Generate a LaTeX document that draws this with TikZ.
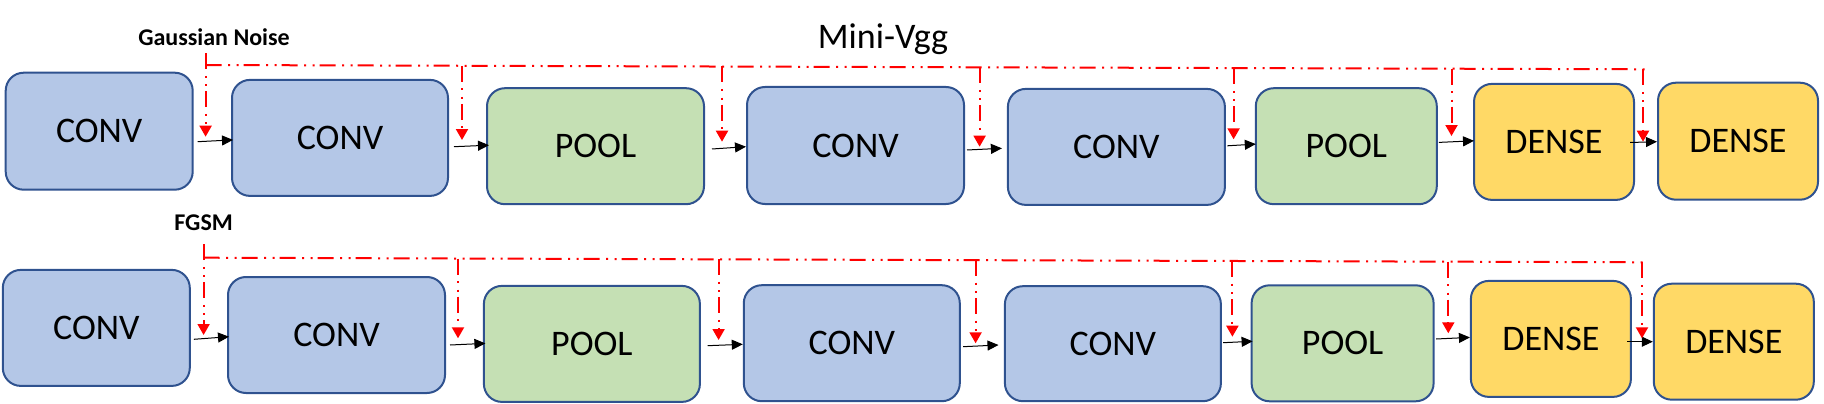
\documentclass[tikz,border=0pt]{standalone}
\usepackage{fontspec}
\setmainfont{Carlito}
\usetikzlibrary{arrows.meta}
\definecolor{convblue}{HTML}{B4C7E7}
\definecolor{poolgreen}{HTML}{C5E0B4}
\definecolor{denseyellow}{HTML}{FFD966}
\definecolor{boxborder}{HTML}{2F528F}
\tikzset{
  box/.style={draw=boxborder, line width=2pt, rounded corners=18pt, inner sep=0pt,
    font=\fontsize{36}{40}\selectfont},
  convbox/.style={box, fill=convblue},
  poolbox/.style={box, fill=poolgreen},
  densebox/.style={box, fill=denseyellow},
  flow/.style={black, line width=1pt, -{Triangle[length=11pt,width=10pt]}},
  noise/.style={red, line width=2pt, dash pattern=on 16pt off 6.5pt on 2pt off 6.5pt on 2pt off 5pt},
  noisearrow/.style={noise, -{Triangle[length=11pt,width=12pt]}},
  lbl/.style={font=\bfseries\fontsize{24}{28}\selectfont, anchor=base, inner sep=0pt},
}
\begin{document}
\begin{tikzpicture}[x=1pt, y=-1pt]
\useasboundingbox (0,0) rectangle (1824,404);

% title
\node[anchor=base, inner sep=0pt, font=\fontsize{36}{40}\selectfont] (title) at (883,48.3) {Mini-Vgg};

% ---------- Row 1 ----------
\node[convbox, minimum width=187pt, minimum height=117pt] (a1) at (99.2,131.2) {CONV};
\node[convbox, minimum width=216pt, minimum height=116pt] (a2) at (340,137.9) {CONV};
\node[poolbox, minimum width=217pt, minimum height=116pt] (a3) at (595.5,146.2) {POOL};
\node[convbox, minimum width=217pt, minimum height=117pt] (a4) at (855.5,145.5) {CONV};
\node[convbox, minimum width=217pt, minimum height=116pt] (a5) at (1116.4,146.9) {CONV};
\node[poolbox, minimum width=181pt, minimum height=116pt] (a6) at (1346.3,146.2) {POOL};
\node[densebox, minimum width=160pt, minimum height=116pt] (a7) at (1554,141.9) {DENSE};
\node[densebox, minimum width=160pt, minimum height=117pt] (a8) at (1738,141.2) {DENSE};

\draw[flow] ([xshift=4pt,yshift=-10.5pt]a1.east) -- ([xshift=2pt,yshift=-2pt]a2.west);
\draw[flow] ([xshift=5pt,yshift=-8.8pt]a2.east) -- ([xshift=3pt,yshift=1pt]a3.west);
\draw[flow] ([xshift=7pt,yshift=-2.8pt]a3.east) -- ([xshift=0pt,yshift=-1.2pt]a4.west);
\draw[flow] ([xshift=2pt,yshift=-4.5pt]a4.east) -- ([xshift=-5pt,yshift=-1.4pt]a5.west);
\draw[flow] ([xshift=1.5pt,yshift=1.1pt]a5.east) -- ([xshift=1pt,yshift=2.1pt]a6.west);
\draw[flow] ([xshift=1pt,yshift=3.8pt]a6.east) -- ([xshift=1pt,yshift=1.1pt]a7.west);
\draw[flow] ([xshift=-5pt,yshift=-0.6pt]a7.east) -- ([xshift=0pt,yshift=-0.5pt]a8.west);

\node[lbl] (gn) at (214,46) {Gaussian Noise};
\coordinate (gtop) at (205.6,53.3);
\coordinate (gc0) at (205.6,65);
\coordinate (gend) at (1649,69.3);
\coordinate (gt1) at (205.6,136.7);
\coordinate (gs2) at (462,65.8);    \coordinate (gt2) at (462,140);
\coordinate (gs3) at (722,66.5);    \coordinate (gt3) at (722,141.7);
\coordinate (gs4) at (979.6,67.3);  \coordinate (gt4) at (979.6,146.7);
\coordinate (gs5) at (1233.6,68.1); \coordinate (gt5) at (1233.6,139.3);
\coordinate (gs6) at (1451.5,68.7); \coordinate (gt6) at (1451.5,136);
\coordinate (gs7) at (1643,69.3);   \coordinate (gt7) at (1643,141.7);

\draw[noise] (gc0) -- (gend);
\draw[noisearrow] (gtop) -- (gt1);
\draw[noisearrow] (gs2) -- (gt2);
\draw[noisearrow] (gs3) -- (gt3);
\draw[noisearrow] (gs4) -- (gt4);
\draw[noisearrow] (gs5) -- (gt5);
\draw[noisearrow] (gs6) -- (gt6);
\draw[noisearrow] (gs7) -- (gt7);

% ---------- Row 2 ----------
\node[convbox, minimum width=187pt, minimum height=116pt] (b1) at (96.3,327.9) {CONV};
\node[convbox, minimum width=217pt, minimum height=116pt] (b2) at (336.5,335) {CONV};
\node[poolbox, minimum width=216pt, minimum height=116pt] (b3) at (591.9,343.9) {POOL};
\node[convbox, minimum width=216pt, minimum height=116pt] (b4) at (851.8,343.2) {CONV};
\node[convbox, minimum width=216pt, minimum height=115pt] (b5) at (1112.9,343.7) {CONV};
\node[poolbox, minimum width=182pt, minimum height=116pt] (b6) at (1342.6,343.3) {POOL};
\node[densebox, minimum width=160pt, minimum height=116pt] (b7) at (1550.9,338.9) {DENSE};
\node[densebox, minimum width=160pt, minimum height=116pt] (b8) at (1733.8,341.7) {DENSE};

\draw[flow] ([xshift=3pt,yshift=-11.4pt]b1.east) -- ([xshift=2pt,yshift=-1.7pt]b2.west);
\draw[flow] ([xshift=4pt,yshift=-10pt]b2.east) -- ([xshift=2.5pt,yshift=0.5pt]b3.west);
\draw[flow] ([xshift=6.7pt,yshift=-1.8pt]b3.east) -- ([xshift=0pt,yshift=-1.1pt]b4.west);
\draw[flow] ([xshift=2.4pt,yshift=-3.5pt]b4.east) -- ([xshift=-5.4pt,yshift=-1.3pt]b5.west);
\draw[flow] ([xshift=1.3pt,yshift=1pt]b5.east) -- ([xshift=2pt,yshift=2pt]b6.west);
\draw[flow] ([xshift=1.5pt,yshift=4.3pt]b6.east) -- ([xshift=0pt,yshift=1.5pt]b7.west);
\draw[flow] ([xshift=-4.8pt,yshift=-2.8pt]b7.east) -- ([xshift=0pt,yshift=0pt]b8.west);

\node[lbl] (fg) at (203.6,230.7) {FGSM};
\coordinate (ftop) at (203.6,244.3);
\coordinate (fc0) at (203.6,257.7);
\coordinate (fend) at (1646,262.3);
\coordinate (ft1) at (203.6,335);
\coordinate (fs2) at (458,258.5);    \coordinate (ft2) at (458,338.3);
\coordinate (fs3) at (718.6,259.3);  \coordinate (ft3) at (718.6,340);
\coordinate (fs4) at (975.6,260.2);  \coordinate (ft4) at (975.6,343.3);
\coordinate (fs5) at (1232.4,261);   \coordinate (ft5) at (1232.4,336.7);
\coordinate (fs6) at (1448.3,261.7); \coordinate (ft6) at (1448.3,333.3);
\coordinate (fs7) at (1642,262.3);   \coordinate (ft7) at (1642,338.3);

\draw[noise] (fc0) -- (fend);
\draw[noisearrow] (ftop) -- (ft1);
\draw[noisearrow] (fs2) -- (ft2);
\draw[noisearrow] (fs3) -- (ft3);
\draw[noisearrow] (fs4) -- (ft4);
\draw[noisearrow] (fs5) -- (ft5);
\draw[noisearrow] (fs6) -- (ft6);
\draw[noisearrow] (fs7) -- (ft7);
\end{tikzpicture}
\end{document}
